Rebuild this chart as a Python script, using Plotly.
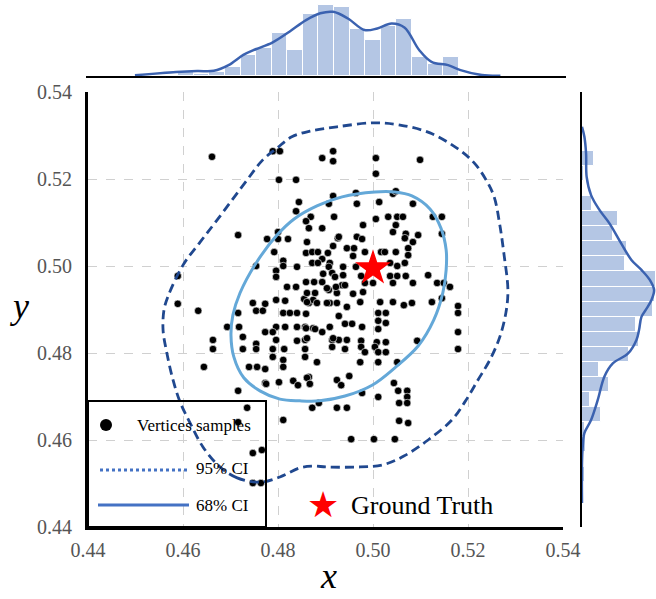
import plotly.graph_objects as go

# ---------------- data ----------------
# sampled vertices (x, y)
sample_x = [
    0.4661, 0.4789, 0.4804, 0.4893, 0.4916, 0.4916, 0.5006, 0.5099, 0.5006, 0.4802,
    0.4838, 0.4844, 0.4916, 0.4907, 0.4964, 0.4966, 0.5013, 0.5042, 0.5048, 0.5084,
    0.4838, 0.4869, 0.4859, 0.4918, 0.4865, 0.4893, 0.4716, 0.4777, 0.4800, 0.4800,
    0.4821, 0.4792, 0.4861, 0.4926, 0.4916, 0.4945, 0.4859, 0.4872, 0.4884, 0.4905,
    0.4811, 0.4811, 0.4840, 0.4872, 0.4893, 0.4909, 0.4937, 0.4754, 0.5006, 0.5032,
    0.5051, 0.5063, 0.4979, 0.5048, 0.5042, 0.5069, 0.5095, 0.5126, 0.5145, 0.5145,
    0.4928, 0.4966, 0.4977, 0.5067, 0.5084, 0.4960, 0.5074, 0.4983, 0.5017, 0.5025,
    0.5048, 0.4958, 0.5074, 0.5036, 0.5051, 0.5067, 0.4964, 0.4907, 0.4884, 0.4589,
    0.4589, 0.4632, 0.4663, 0.4663, 0.4644, 0.4716, 0.4693, 0.4718, 0.4726, 0.4726,
    0.4716, 0.4739, 0.4756, 0.4773, 0.4754, 0.4754, 0.4773, 0.4747, 0.4773, 0.4754,
    0.4768, 0.4796, 0.4796, 0.4796, 0.4815, 0.4811, 0.4819, 0.4838, 0.4796, 0.4796,
    0.4815, 0.4789, 0.4789, 0.4813, 0.4789, 0.4811, 0.4811, 0.4802, 0.4773, 0.4832,
    0.4842, 0.4840, 0.4825, 0.4840, 0.4840, 0.4857, 0.4857, 0.4865, 0.4855, 0.4874,
    0.4859, 0.4876, 0.4893, 0.4874, 0.4893, 0.4909, 0.4857, 0.4857, 0.4882, 0.4865,
    0.4914, 0.4928, 0.4941, 0.4914, 0.4928, 0.4941, 0.4909, 0.4924, 0.4907, 0.4924,
    0.4935, 0.4937, 0.4914, 0.4895, 0.4945, 0.4924, 0.4933, 0.4950, 0.4886, 0.4924,
    0.4945, 0.4872, 0.4735, 0.4920, 0.4975, 0.4983, 0.5000, 0.5036, 0.5051, 0.5069,
    0.5042, 0.5084, 0.5116, 0.5135, 0.5149, 0.5162, 0.5145, 0.5179, 0.5179, 0.5179,
    0.5179, 0.5124, 0.5082, 0.5065, 0.5042, 0.5015, 0.5011, 0.5027, 0.5011, 0.5027,
    0.5011, 0.4973, 0.4958, 0.4979, 0.4941, 0.4922, 0.4903, 0.4878, 0.4861, 0.4861,
    0.4882, 0.4903, 0.4859, 0.4956, 0.4977, 0.4859, 0.4878, 0.4861, 0.4916, 0.4945,
    0.4975, 0.5008, 0.5027, 0.5093, 0.4975, 0.4983, 0.5004, 0.5011, 0.5027, 0.4973,
    0.5011, 0.5051, 0.4861, 0.4867, 0.5044, 0.5053, 0.5072, 0.5072, 0.5011, 0.4977,
    0.5055, 0.5072, 0.4775, 0.4811, 0.5055, 0.5074, 0.4954, 0.5002, 0.5046, 0.4766,
    0.4747, 0.4747, 0.4764, 0.4716,
]
sample_y = [
    0.5251, 0.5264, 0.5264, 0.5248, 0.5264, 0.5241, 0.5248, 0.5244, 0.5212, 0.5198,
    0.5198, 0.5147, 0.5161, 0.5143, 0.5168, 0.5143, 0.5147, 0.5166, 0.5172, 0.5143,
    0.5126, 0.5113, 0.5103, 0.5113, 0.5087, 0.5087, 0.5071, 0.5062, 0.5078, 0.5062,
    0.5062, 0.5032, 0.5055, 0.5064, 0.5046, 0.5041, 0.5030, 0.5032, 0.5032, 0.5030,
    0.5012, 0.5000, 0.4998, 0.5007, 0.5016, 0.5007, 0.4998, 0.5000, 0.5108, 0.5113,
    0.5113, 0.5113, 0.5094, 0.5094, 0.5078, 0.5074, 0.5071, 0.5113, 0.5113, 0.5074,
    0.5067, 0.5067, 0.5062, 0.5064, 0.5055, 0.5041, 0.5041, 0.5032, 0.5032, 0.5032,
    0.5032, 0.5023, 0.5025, 0.5007, 0.5000, 0.5007, 0.4998, 0.4998, 0.5007, 0.4977,
    0.4913, 0.4897, 0.4830, 0.4809, 0.4768, 0.4892, 0.4860, 0.4860, 0.4837, 0.4809,
    0.4713, 0.4768, 0.4768, 0.4763, 0.4821, 0.4809, 0.4848, 0.4915, 0.4913, 0.4897,
    0.4897, 0.4989, 0.4975, 0.4922, 0.4920, 0.4892, 0.4952, 0.4952, 0.4860, 0.4830,
    0.4860, 0.4848, 0.4809, 0.4809, 0.4791, 0.4784, 0.4768, 0.4733, 0.4731, 0.4736,
    0.4726, 0.4892, 0.4892, 0.4860, 0.4828, 0.4860, 0.4830, 0.4915, 0.4924, 0.4922,
    0.4963, 0.4963, 0.4963, 0.4857, 0.4848, 0.4860, 0.4809, 0.4791, 0.4779, 0.4745,
    0.4830, 0.4830, 0.4809, 0.4814, 0.4885, 0.4867, 0.4915, 0.4915, 0.4945, 0.4938,
    0.4956, 0.4979, 0.4984, 0.4982, 0.4906, 0.4738, 0.4726, 0.4747, 0.4685, 0.4674,
    0.4674, 0.4674, 0.4674, 0.4975, 0.4977, 0.4961, 0.4961, 0.4977, 0.4977, 0.4977,
    0.4961, 0.4961, 0.4979, 0.4961, 0.4961, 0.4952, 0.4926, 0.4908, 0.4892, 0.4848,
    0.4809, 0.4917, 0.4915, 0.4910, 0.4917, 0.4917, 0.4892, 0.4892, 0.4874, 0.4869,
    0.4855, 0.4917, 0.4936, 0.4940, 0.4956, 0.4952, 0.4949, 0.4938, 0.4938, 0.4917,
    0.4915, 0.4915, 0.4890, 0.4867, 0.4860, 0.4857, 0.4855, 0.4834, 0.4834, 0.4830,
    0.4828, 0.4825, 0.4825, 0.4828, 0.4814, 0.4802, 0.4814, 0.4802, 0.4802, 0.4779,
    0.4779, 0.4779, 0.4743, 0.4729, 0.4731, 0.4713, 0.4713, 0.4699, 0.4699, 0.4708,
    0.4685, 0.4685, 0.4729, 0.4646, 0.4644, 0.4639, 0.4602, 0.4602, 0.4602, 0.4577,
    0.4570, 0.4501, 0.4501, 0.4641,
]

# ground truth vertex
truth_x = [0.5000]
truth_y = [0.4995]

# 95% confidence contour vertices
ci95_x = [0.4762, 0.4714, 0.4678, 0.4642, 0.4615, 0.4594, 0.4579, 0.4566, 0.4558, 0.4560,
          0.4568, 0.4600, 0.4636, 0.4672, 0.4735, 0.4768, 0.4798, 0.4829, 0.4867, 0.4924,
          0.5000, 0.5057, 0.5120, 0.5179, 0.5213, 0.5238, 0.5255, 0.5267, 0.5276, 0.5284,
          0.5280, 0.5267, 0.5246, 0.5221, 0.5196, 0.5166, 0.5116, 0.5065, 0.5021, 0.4973,
          0.4903, 0.4874, 0.4846, 0.4804, 0.4762]
ci95_y = [0.4503, 0.4513, 0.4538, 0.4584, 0.4639, 0.4687, 0.4738, 0.4800, 0.4853, 0.4899,
          0.4929, 0.5002, 0.5055, 0.5106, 0.5198, 0.5244, 0.5271, 0.5297, 0.5310, 0.5320,
          0.5329, 0.5324, 0.5306, 0.5269, 0.5237, 0.5198, 0.5159, 0.5094, 0.5025, 0.4945,
          0.4894, 0.4837, 0.4784, 0.4738, 0.4692, 0.4646, 0.4600, 0.4563, 0.4543, 0.4538,
          0.4538, 0.4540, 0.4536, 0.4515, 0.4503]

# 68% confidence contour vertices
ci68_x = [0.5004, 0.5046, 0.5082, 0.5120, 0.5143, 0.5154, 0.5154, 0.5147, 0.5128, 0.5095,
          0.5046, 0.4998, 0.4941, 0.4888, 0.4846, 0.4804, 0.4762, 0.4728, 0.4707, 0.4701,
          0.4705, 0.4720, 0.4754, 0.4798, 0.4834, 0.4882, 0.4935, 0.5004]
ci68_y = [0.5170, 0.5170, 0.5161, 0.5131, 0.5087, 0.5037, 0.4991, 0.4938, 0.4876, 0.4816,
          0.4766, 0.4726, 0.4701, 0.4690, 0.4690, 0.4694, 0.4713, 0.4743, 0.4791, 0.4841,
          0.4887, 0.4938, 0.5007, 0.5071, 0.5108, 0.5138, 0.5159, 0.5170]

# marginal histogram of x
hist_x_start = 0.4589
hist_x_width = 0.00328
hist_x_freq = [1.5, 1, 1.5, 4, 9, 12, 18, 11, 26, 30, 29, 20, 15, 21, 24, 8, 5, 8]

# marginal density of x
kde_x_pos = [0.4498, 0.4585, 0.4629, 0.4664, 0.4695, 0.4726, 0.4752, 0.4787, 0.4823, 0.4858,
             0.4888, 0.4915, 0.4946, 0.4981, 0.5008, 0.5038, 0.5065, 0.5096, 0.5122, 0.5157,
             0.5183, 0.5228, 0.5267]
kde_x_val = [0.3, 1.7, 2.1, 2.2, 4.6, 8.9, 11.3, 14.1, 18.7, 23.6,
             26.5, 27.1, 24.3, 19.4, 20.1, 22.2, 20.5, 11.0, 6.0, 4.6,
             2.5, 0.4, 0.1]

# marginal histogram of y (bins listed from the bottom up)
hist_y_start = 0.4503
hist_y_width = 0.00346
hist_y_freq = [1.4, 0.5, 1.7, 1.3, 8, 3.4, 11.3, 7.3, 19.5, 23.8, 22.5,
               29.8, 30.5, 30.9, 18.1, 19, 13, 15.1, 4.1, 0, 0.8, 5.2]

# marginal density of y
kde_y_pos = [0.5320, 0.5297, 0.5259, 0.5205, 0.5163, 0.5129, 0.5098, 0.5052, 0.5014, 0.4991,
             0.4968, 0.4945, 0.4922, 0.4899, 0.4883, 0.4853, 0.4830, 0.4799, 0.4776, 0.4746,
             0.4692, 0.4646, 0.4616, 0.4585, 0.4547, 0.4455]
kde_y_val = [0.0, 1.0, 1.7, 1.95, 3.8, 7.3, 11.5, 16.4, 20.7, 24.9,
             28.4, 30.2, 29.1, 26.7, 24.9, 23.9, 22.8, 19.3, 12.9, 9.4,
             6.6, 3.8, 1.0, 0.3, 0.0, 0.0]

tick_vals = [0.44, 0.46, 0.48, 0.50, 0.52, 0.54]

# ---------------- styling ----------------
W, H = 656, 599
SERIF = "Liberation Serif"
BAR_FILL = "#b4c6e4"
KDE_BLUE = "#3b62b0"
CI95_BLUE = "#20488f"
CI68_BLUE = "#64a8d8"
LEGEND_BLUE = "#4472c4"


def px(x):
    return x / W


def py(y):
    return 1 - y / H


fig = go.Figure()

# main scatter of sampled vertices
fig.add_trace(go.Scatter(
    x=sample_x, y=sample_y, mode="markers",
    marker=dict(color="black", size=7.5, line=dict(color="white", width=0.6)),
    xaxis="x", yaxis="y", showlegend=False, hoverinfo="skip",
))

# confidence contours
fig.add_trace(go.Scatter(
    x=ci68_x, y=ci68_y, mode="lines", line=dict(color=CI68_BLUE, width=3, shape="spline", smoothing=1.0),
    xaxis="x", yaxis="y", showlegend=False, hoverinfo="skip",
))
fig.add_trace(go.Scatter(
    x=ci95_x, y=ci95_y, mode="lines",
    line=dict(color=CI95_BLUE, width=2.8, dash="9px,5px", shape="spline", smoothing=1.0),
    xaxis="x", yaxis="y", showlegend=False, hoverinfo="skip",
))

# ground truth
fig.add_trace(go.Scatter(
    x=truth_x, y=truth_y, mode="markers",
    marker=dict(symbol="star", color="#ff0000", size=27, line=dict(width=0)),
    xaxis="x", yaxis="y", showlegend=False, hoverinfo="skip",
))

# top marginal: histogram + density of x
fig.add_trace(go.Bar(
    x=[hist_x_start + (i + 0.5) * hist_x_width for i in range(len(hist_x_freq))],
    y=hist_x_freq, width=hist_x_width,
    marker=dict(color=BAR_FILL, line=dict(color="white", width=1)),
    xaxis="x2", yaxis="y2", showlegend=False, hoverinfo="skip",
))
fig.add_trace(go.Scatter(
    x=kde_x_pos, y=kde_x_val, mode="lines",
    line=dict(color=KDE_BLUE, width=2.5, shape="spline", smoothing=1.0),
    xaxis="x2", yaxis="y2", showlegend=False, hoverinfo="skip",
))

# right marginal: histogram + density of y
fig.add_trace(go.Bar(
    y=[hist_y_start + (i + 0.5) * hist_y_width for i in range(len(hist_y_freq))],
    x=hist_y_freq, width=hist_y_width, orientation="h",
    marker=dict(color=BAR_FILL, line=dict(color="white", width=1)),
    xaxis="x3", yaxis="y3", showlegend=False, hoverinfo="skip",
))
fig.add_trace(go.Scatter(
    x=kde_y_val, y=kde_y_pos, mode="lines",
    line=dict(color=KDE_BLUE, width=2.5, shape="spline", smoothing=1.0),
    xaxis="x3", yaxis="y3", showlegend=False, hoverinfo="skip",
))

main_x_dom = [px(88), px(563)]
main_y_dom = [py(527), py(92)]
grid = dict(showgrid=True, gridcolor="#d0d0d0", griddash="dash", gridwidth=1)
tickfont = dict(family=SERIF, size=20, color="#555555")

layout = dict(
    width=W, height=H,
    margin=dict(l=0, r=0, t=0, b=0, autoexpand=False),
    paper_bgcolor="white", plot_bgcolor="rgba(0,0,0,0)",
    bargap=0,
    xaxis=dict(domain=main_x_dom, range=[0.44, 0.54], anchor="y", automargin=False,
               tickvals=tick_vals, ticktext=[f"{v:.2f}" for v in tick_vals],
               tickfont=tickfont, ticks="", ticklabelstandoff=3,
               showline=True, linecolor="black", linewidth=3,
               zeroline=False, **grid),
    yaxis=dict(domain=main_y_dom, range=[0.44, 0.54], anchor="x", automargin=False,
               tickvals=tick_vals, ticktext=[f"{v:.2f}" for v in tick_vals],
               tickfont=tickfont, ticks="", ticklabelstandoff=9,
               showline=True, linecolor="black", linewidth=3,
               zeroline=False, **grid),
    xaxis2=dict(domain=[px(86), px(566)], range=[0.4395, 0.5405], anchor="y2", automargin=False,
                showticklabels=False, ticks="", showgrid=False, zeroline=False,
                showline=True, linecolor="black", linewidth=2),
    yaxis2=dict(domain=[py(76), 1.0], range=[0, 32.1], anchor="x2", automargin=False,
                visible=False, showgrid=False, zeroline=False),
    xaxis3=dict(domain=[px(582), 1.0], range=[0, 31.0], anchor="y3", automargin=False,
                visible=False, showgrid=False, zeroline=False),
    yaxis3=dict(domain=main_y_dom, range=[0.44, 0.54], anchor="x3", automargin=False,
                showticklabels=False, ticks="", showgrid=False, zeroline=False,
                showline=True, linecolor="black", linewidth=2),
)
fig.update_layout(**layout)

# legend box and entries
shapes = [
    dict(type="rect", xref="paper", yref="paper",
         x0=px(88), x1=px(266), y0=py(527), y1=py(401),
         line=dict(color="black", width=2), fillcolor="rgba(0,0,0,0)"),
    dict(type="circle", xref="paper", yref="paper",
         x0=px(100), x1=px(112), y0=py(431), y1=py(419),
         line=dict(color="black", width=0), fillcolor="black"),
    dict(type="line", xref="paper", yref="paper",
         x0=px(100), x1=px(190), y0=py(470), y1=py(470),
         line=dict(color=LEGEND_BLUE, width=3, dash="dot")),
    dict(type="line", xref="paper", yref="paper",
         x0=px(98), x1=px(189), y0=py(505), y1=py(505),
         line=dict(color=LEGEND_BLUE, width=3)),
]
fig.update_layout(shapes=shapes)

ann = [
    dict(text="Vertices samples", x=px(135), y=py(425), xanchor="left", yanchor="middle",
         font=dict(family=SERIF, size=17, color="black")),
    dict(text="95% CI", x=px(194), y=py(468), xanchor="left", yanchor="middle",
         font=dict(family=SERIF, size=17, color="black")),
    dict(text="68% CI", x=px(194), y=py(505), xanchor="left", yanchor="middle",
         font=dict(family=SERIF, size=17, color="black")),
    dict(text="★", x=px(323), y=py(504), xanchor="center", yanchor="middle",
         font=dict(family="DejaVu Sans", size=36, color="#ff0000")),
    dict(text="Ground Truth", x=px(349), y=py(505), xanchor="left", yanchor="middle",
         font=dict(family=SERIF, size=26, color="black")),
    dict(text="<i>x</i>", x=px(328), y=py(576), xanchor="center", yanchor="middle",
         font=dict(family=SERIF, size=36, color="black")),
    dict(text="<i>y</i>", x=px(19), y=py(306), xanchor="center", yanchor="middle",
         font=dict(family=SERIF, size=36, color="black")),
]
for a in ann:
    a.update(xref="paper", yref="paper", showarrow=False)
fig.update_layout(annotations=ann)

fig.write_html("out.html")
